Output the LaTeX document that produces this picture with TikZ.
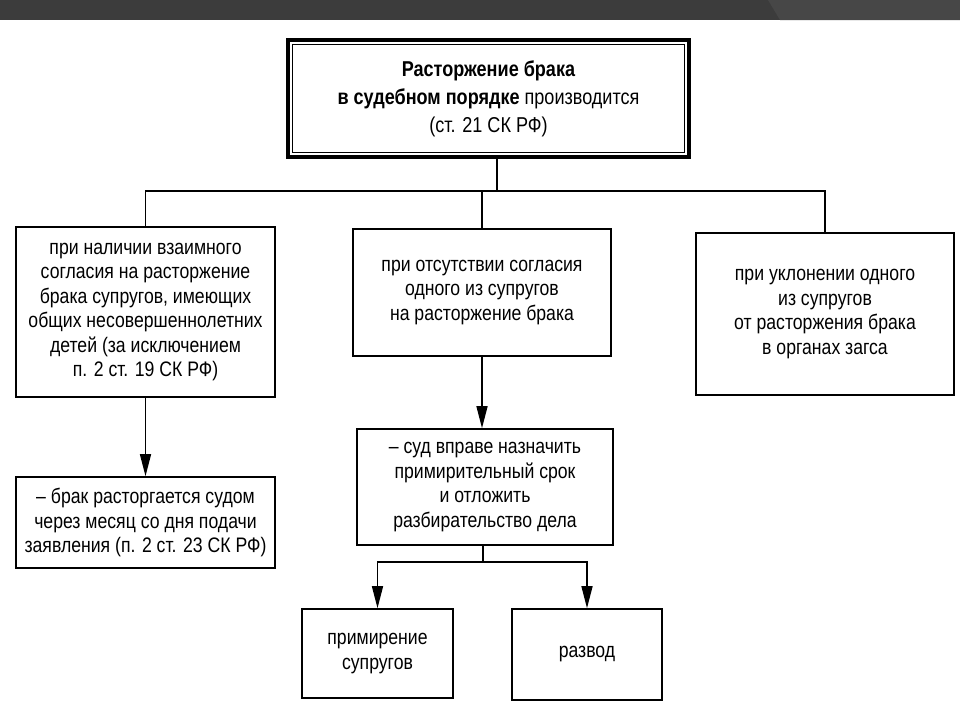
\documentclass[tikz,border=0pt]{standalone}
\usepackage{fontspec}
\setmainfont{Liberation Sans}[FakeStretch=0.84]
\usetikzlibrary{arrows.meta}
\definecolor{barcol}{HTML}{3C3C3C}
\definecolor{barlite}{HTML}{474747}
\tikzset{
  box/.style={draw,line width=1.6pt,inner sep=2pt,align=center,
    font=\fontsize{21}{24.5}\selectfont},
  arr/.style={-{Triangle[length=22pt,width=11pt]}}
}
\begin{document}
\begin{tikzpicture}[x=1pt,y=-1pt,line width=1.4pt]
	\useasboundingbox (0,0) rectangle (960,720);
	\fill[barcol] (0,0) rectangle (960,20);
	\fill[barlite] (768,0) -- (960,0) -- (960,20) -- (780,20) -- cycle;
		\node[box,line width=3.5pt,minimum width=401pt,minimum height=117pt,
			font=\fontsize{21.5}{28}\selectfont] (top) at (488.5,98.5)
			{\textbf{Расторжение брака}\\ \textbf{в судебном порядке} производится\\ (ст. 21 СК РФ)};
		\draw[line width=1.2pt] ([xshift=6pt,yshift=-6pt]top.north west) rectangle ([xshift=-6pt,yshift=6pt]top.south east);
		\node[box,minimum width=259pt,minimum height=170pt] (cond1) at (145.5,312)
			{при наличии взаимного\\ согласия на расторжение\\ брака супругов, имеющих\\ общих несовершеннолетних\\ детей (за исключением\\ п. 2 ст. 19 СК РФ)};
		\node[box,minimum width=258pt,minimum height=127pt] (cond2) at (482,292.5)
			{при отсутствии согласия\\ одного из супругов\\ на расторжение брака};
		\node[box,minimum width=258pt,minimum height=162pt] (cond3) at (825,314)
			{при уклонении одного\\ из супругов\\ от расторжения брака\\ в органах загса};
		\node[box,minimum width=259pt,minimum height=91pt] (res1) at (145.5,522.5)
			{– брак расторгается судом\\ через месяц со дня подачи\\ заявления (п. 2 ст. 23 СК РФ)};
		\node[box,minimum width=256pt,minimum height=116pt] (res2) at (485,487)
			{– суд вправе назначить\\ примирительный срок\\ и отложить\\ разбирательство дела};
		\node[box,minimum width=151pt,minimum height=89pt] (opt1) at (377.5,653.5)
			{примирение\\ супругов};
		\node[box,minimum width=150pt,minimum height=91pt] (opt2) at (587,654.5)
			{развод};
	\coordinate (split) at (497,191);
	\coordinate (fork) at (483,562);
		\draw (top.south -| split) -- (split);
		\draw (cond1.north) |- (split -| cond3.north) -- (cond3.north);
		\draw (cond2.north) -- (cond2.north |- split);
		\draw[arr] (cond1.south) -- (res1.north);
		\draw[arr] (cond2.south) -- (cond2.south |- res2.north);
		\draw (res2.south -| fork) -- (fork);
		\draw[arr] (fork) -| (opt1.north);
		\draw[arr] (fork) -| (opt2.north);
\end{tikzpicture}
\end{document}
